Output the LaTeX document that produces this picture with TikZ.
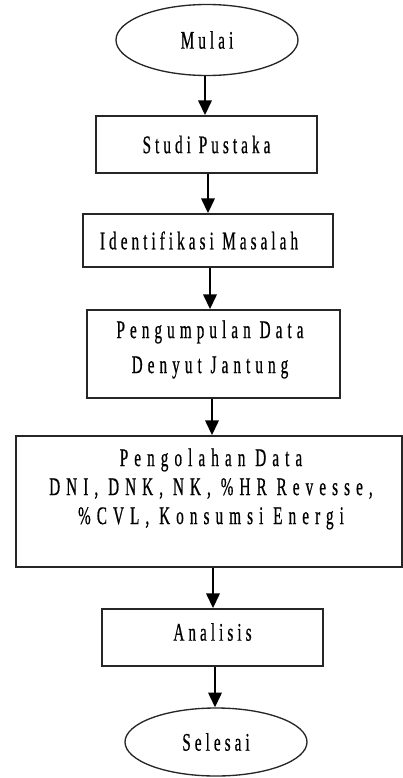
\documentclass[tikz,border=0pt]{standalone}
\usepackage{fontspec}
\setmainfont{Liberation Serif}[FakeStretch=0.6,FakeBold=0.6,LetterSpace=16]
\usetikzlibrary{shapes.geometric,arrows.meta}
\tikzset{
  box/.style={draw=black!85,line width=1.3pt,rectangle,inner sep=0pt,font=\fontsize{19}{21.75}\selectfont,align=center},
  term/.style={draw=black!85,line width=1pt,ellipse,inner sep=0pt,font=\fontsize{19}{21.75}\selectfont},
  txt/.style={inner sep=0pt,align=center},
  arr/.style={line width=1.7pt,-{Triangle[width=10pt,length=11pt]}}
}
\begin{document}
\begin{tikzpicture}[x=0.75pt,y=-0.75pt]
\useasboundingbox (0,0) rectangle (403,778);
\node[term,minimum width=182*0.75pt,minimum height=71*0.75pt] (mulai) at (207,40) {Mulai};
\node[box,minimum width=221*0.75pt,minimum height=57*0.75pt] (studi) at (206.5,144.5) {Studi Pustaka};
\node[box,minimum width=250*0.75pt,minimum height=53*0.75pt,text width=216*0.75pt,align=left,inner xsep=17*0.75pt] (ident) at (208,240.5) {Identifikasi Masalah};
\node[box,minimum width=253*0.75pt,minimum height=88*0.75pt] (kumpul) at (213.5,354) {};
\node[txt,font=\fontsize{19}{26.25}\selectfont\addfontfeature{LetterSpace=20}] (kumpult) at (210,349.5) {Pengumpulan Data\\Denyut Jantung};
\node[box,minimum width=386*0.75pt,minimum height=131*0.75pt] (olah) at (209,501.5) {};
\node[txt,font=\fontsize{19}{21.75}\selectfont\addfontfeature{LetterSpace=24}] (olaht) at (211,489) {Pengolahan Data\\DNI, DNK, NK, \%HR Revesse,\\\%CVL, Konsumsi Energi};
\node[box,minimum width=221*0.75pt,minimum height=57*0.75pt] (anal) at (212.5,637.5) {};
\node[txt,font=\fontsize{19}{21.75}\selectfont] (analt) at (212.5,632) {Analisis};
\node[term,minimum width=182*0.75pt,minimum height=68*0.75pt] (selesai) at (216,742) {Selesai};
\draw[arr] (mulai.south -| 205,0) -- (studi.north -| 205,0);
\draw[arr] (studi.south -| 208,0) -- (ident.north -| 208,0);
\draw[arr] (ident.south -| 210,0) -- (kumpul.north -| 210,0);
\draw[arr] (kumpul.south -| 212,0) -- (olah.north -| 212,0);
\draw[arr] (olah.south -| 213,0) -- (anal.north -| 213,0);
\draw[arr] (anal.south -| 215,0) -- (selesai.north -| 215,0);
\end{tikzpicture}
\end{document}
